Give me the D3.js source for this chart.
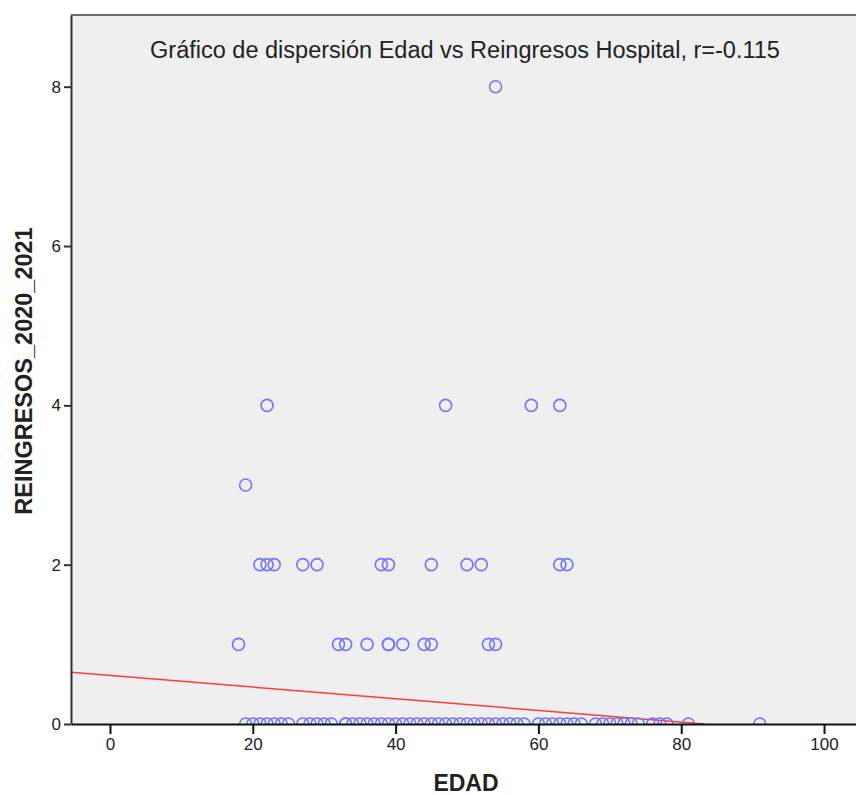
<!DOCTYPE html>
<html>
<head>
<meta charset="utf-8">
<script src="https://cdn.jsdelivr.net/npm/d3@7"></script>
<style>
  html, body { margin: 0; padding: 0; background: #ffffff; }
  svg { display: block; font-family: "Liberation Sans", Arial, sans-serif; }
</style>
</head>
<body>
<svg id="chart" width="856" height="795"></svg>
<script>
// ---- data ----
const titleText = "Gráfico de dispersión Edad vs Reingresos Hospital, r=-0.115";
const xLabel = "EDAD";
const yLabel = "REINGRESOS_2020_2021";
const xTicks = [0, 20, 40, 60, 80, 100];
const yTicks = [0, 2, 4, 6, 8];
// ages of patients by number of readmissions
const edad0 = [19,20,21,22,23,24,25,27,28,29,30,31,33,33,34,35,36,37,38,39,40,41,42,43,44,45,46,47,48,49,50,51,52,53,54,55,56,57,58,60,61,62,63,64,65,66,68,69,70,71,72,73,74,76,77,78,81,91];
const edad1 = [18,32,33,36,39,39,41,44,45,53,54];
const edad2 = [21,22,23,27,29,38,39,45,50,52,63,64];
const edad3 = [19];
const edad4 = [22,47,59,63];
const edad8 = [54];
// fitted line: reingresos = intercept + slope * edad
const fitIntercept = 0.61;
const fitSlope = -0.00733;

const groups = [[0, edad0], [1, edad1], [2, edad2], [3, edad3], [4, edad4], [8, edad8]];
const points = [];
groups.forEach(([r, ages]) => ages.forEach(a => points.push({ edad: a, reingresos: r })));

// ---- layout ----
const svg = d3.select("#chart");
const pLeft = 71, pTop = 15, pBottom = 724, pRight = 900;

const x = d3.scaleLinear().domain([-5.46, 110.64]).range([pLeft, pRight]);
const y = d3.scaleLinear().domain([0, 8.9]).range([pBottom, pTop]);

// plot background
svg.append("rect")
  .attr("x", pLeft).attr("y", pTop)
  .attr("width", pRight - pLeft).attr("height", pBottom - pTop)
  .attr("fill", "#efefef");

svg.append("defs").append("clipPath").attr("id", "plotclip")
  .append("rect")
  .attr("x", pLeft).attr("y", pTop)
  .attr("width", pRight - pLeft).attr("height", pBottom - pTop);

// top border
svg.append("line")
  .attr("x1", pLeft).attr("x2", pRight)
  .attr("y1", pTop).attr("y2", pTop)
  .attr("stroke", "#6e6e6e").attr("stroke-width", 2);

// title
svg.append("text")
  .attr("x", 465).attr("y", 58)
  .attr("text-anchor", "middle")
  .attr("font-size", 23.5)
  .attr("fill", "#222")
  .text(titleText);

const plot = svg.append("g").attr("clip-path", "url(#plotclip)");

// regression line
const fitX0 = x.domain()[0];
const fitX1 = -fitIntercept / fitSlope;
plot.append("line")
  .attr("x1", x(fitX0)).attr("y1", y(fitIntercept + fitSlope * fitX0))
  .attr("x2", x(fitX1)).attr("y2", y(fitIntercept + fitSlope * fitX1))
  .attr("stroke", "#ff3b3b").attr("stroke-width", 1.5);

// points
plot.selectAll("circle.pt").data(points).enter().append("circle")
  .attr("class", "pt")
  .attr("cx", d => x(d.edad))
  .attr("cy", d => y(d.reingresos))
  .attr("r", 6)
  .attr("fill", "none")
  .attr("stroke", "#7474ff")
  .attr("stroke-width", 1.6);

// axes
const xAxis = d3.axisBottom(x).tickValues(xTicks).tickSize(10).tickSizeOuter(0).tickPadding(4);
const gx = svg.append("g").attr("transform", `translate(0,${pBottom})`).call(xAxis);
gx.select(".domain").attr("stroke", "#111").attr("stroke-width", 2);
gx.selectAll(".tick line").attr("stroke", "#111").attr("stroke-width", 2);
gx.selectAll(".tick text").attr("font-size", 17).attr("fill", "#222")
  .attr("font-family", "'Liberation Sans', Arial, sans-serif");

const yAxis = d3.axisLeft(y).tickValues(yTicks).tickSize(7).tickSizeOuter(0).tickPadding(3);
const gy = svg.append("g").attr("transform", `translate(${pLeft},0)`).call(yAxis);
gy.select(".domain").attr("stroke", "#333").attr("stroke-width", 2);
gy.selectAll(".tick line").attr("stroke", "#333").attr("stroke-width", 2);
gy.selectAll(".tick text").attr("font-size", 17).attr("fill", "#222")
  .attr("font-family", "'Liberation Sans', Arial, sans-serif");

// axis titles
svg.append("text")
  .attr("x", 466).attr("y", 791)
  .attr("text-anchor", "middle")
  .attr("font-size", 23).attr("font-weight", "bold").attr("fill", "#222")
  .text(xLabel);

svg.append("text")
  .attr("transform", `translate(32,371) rotate(-90)`)
  .attr("text-anchor", "middle")
  .attr("font-size", 23.5).attr("font-weight", "bold").attr("fill", "#222")
  .text(yLabel);
</script>
</body>
</html>
